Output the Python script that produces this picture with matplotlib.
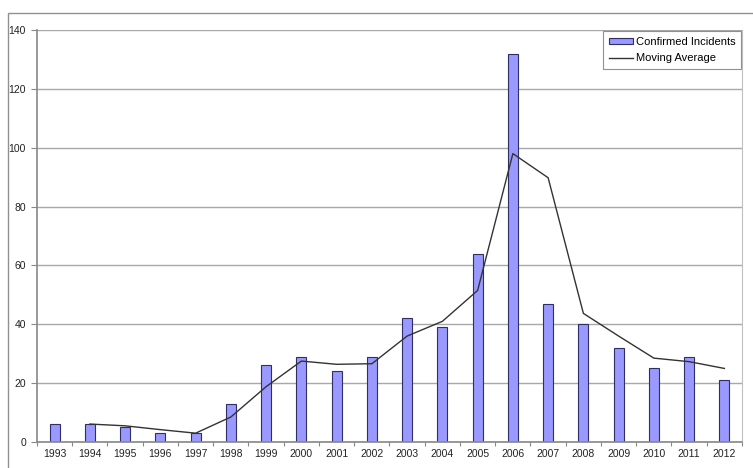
import numpy as np
import matplotlib
matplotlib.use('Agg')
import matplotlib.pyplot as plt
from matplotlib.patches import Rectangle

plt.rcParams['font.family'] = ['Liberation Sans', 'DejaVu Sans']

# incidents per year
years = ['1993', '1994', '1995', '1996', '1997', '1998', '1999', '2000', '2001', '2002',
         '2003', '2004', '2005', '2006', '2007', '2008', '2009', '2010', '2011', '2012']
incidents = [6, 6, 5, 3, 3, 13, 26, 29, 24, 29, 42, 39, 64, 132, 47, 40, 32, 25, 29, 21]
# moving average starts from the second year
ma_years = years[1:]
moving_avg = [6.1, 5.5, 4.2, 3.0, 8.5, 18.8, 27.5, 26.4, 26.6, 36.0, 41.0, 51.5,
              98.0, 89.8, 43.7, 36.0, 28.5, 27.3, 25.0]

grid_col = '#a8a8a8'
axis_col = '#888888'

fig = plt.figure(figsize=(7.53, 4.68), dpi=100)
ax = fig.add_axes([37/753, 1-442/468, 705/753, 412/468])

x = np.arange(len(years))
bars = ax.bar(x, incidents, width=0.28, color='#9999ff', edgecolor='#2f2f66', linewidth=0.8,
              label='Confirmed Incidents', zorder=2)
xm = np.array([years.index(y) for y in ma_years])
line, = ax.plot(xm, moving_avg, color='#333333', linewidth=1.0, label='Moving Average', zorder=3)

ax.set_xlim(-0.5, len(years) - 0.5)
ax.set_ylim(0, 140)
ax.set_yticks(np.arange(0, 141, 20))
ax.yaxis.grid(True, color=grid_col, linewidth=1.0, zorder=0)
ax.set_axisbelow(True)

ax.set_xticks(x)
ax.set_xticklabels(years)
ax.set_xticks(np.arange(-0.5, len(years), 1), minor=True)
ax.tick_params(axis='x', which='major', length=0, labelsize=7.5, pad=5, colors='#222222')
ax.tick_params(axis='x', which='minor', length=3, color=axis_col, width=0.8)
ax.tick_params(axis='y', length=4, width=0.8, labelsize=7.5, pad=4, colors='#222222')
ax.tick_params(axis='y', color=axis_col)

for side in ['left', 'bottom']:
    ax.spines[side].set_color(axis_col)
    ax.spines[side].set_linewidth(1.2)
ax.spines['right'].set_color('#c0c0c0')
ax.spines['right'].set_linewidth(0.8)
ax.spines['top'].set_visible(False)

leg = ax.legend([bars, line], ['Confirmed Incidents', 'Moving Average'],
                loc='upper right', borderaxespad=0.1, fontsize=8, frameon=True,
                fancybox=False, edgecolor='#909090', framealpha=1,
                handlelength=2.2, handleheight=0.5, handletextpad=0.2,
                borderpad=0.5, labelspacing=0.6)
leg.get_frame().set_linewidth(0.8)

# outer chart frame
fig.patches.append(Rectangle((8/753, -0.1), 1.0, 1.1 - 13/468,
                             transform=fig.transFigure, fill=False,
                             edgecolor='#909090', linewidth=1.0))

fig.savefig('out.png', dpi=100)
